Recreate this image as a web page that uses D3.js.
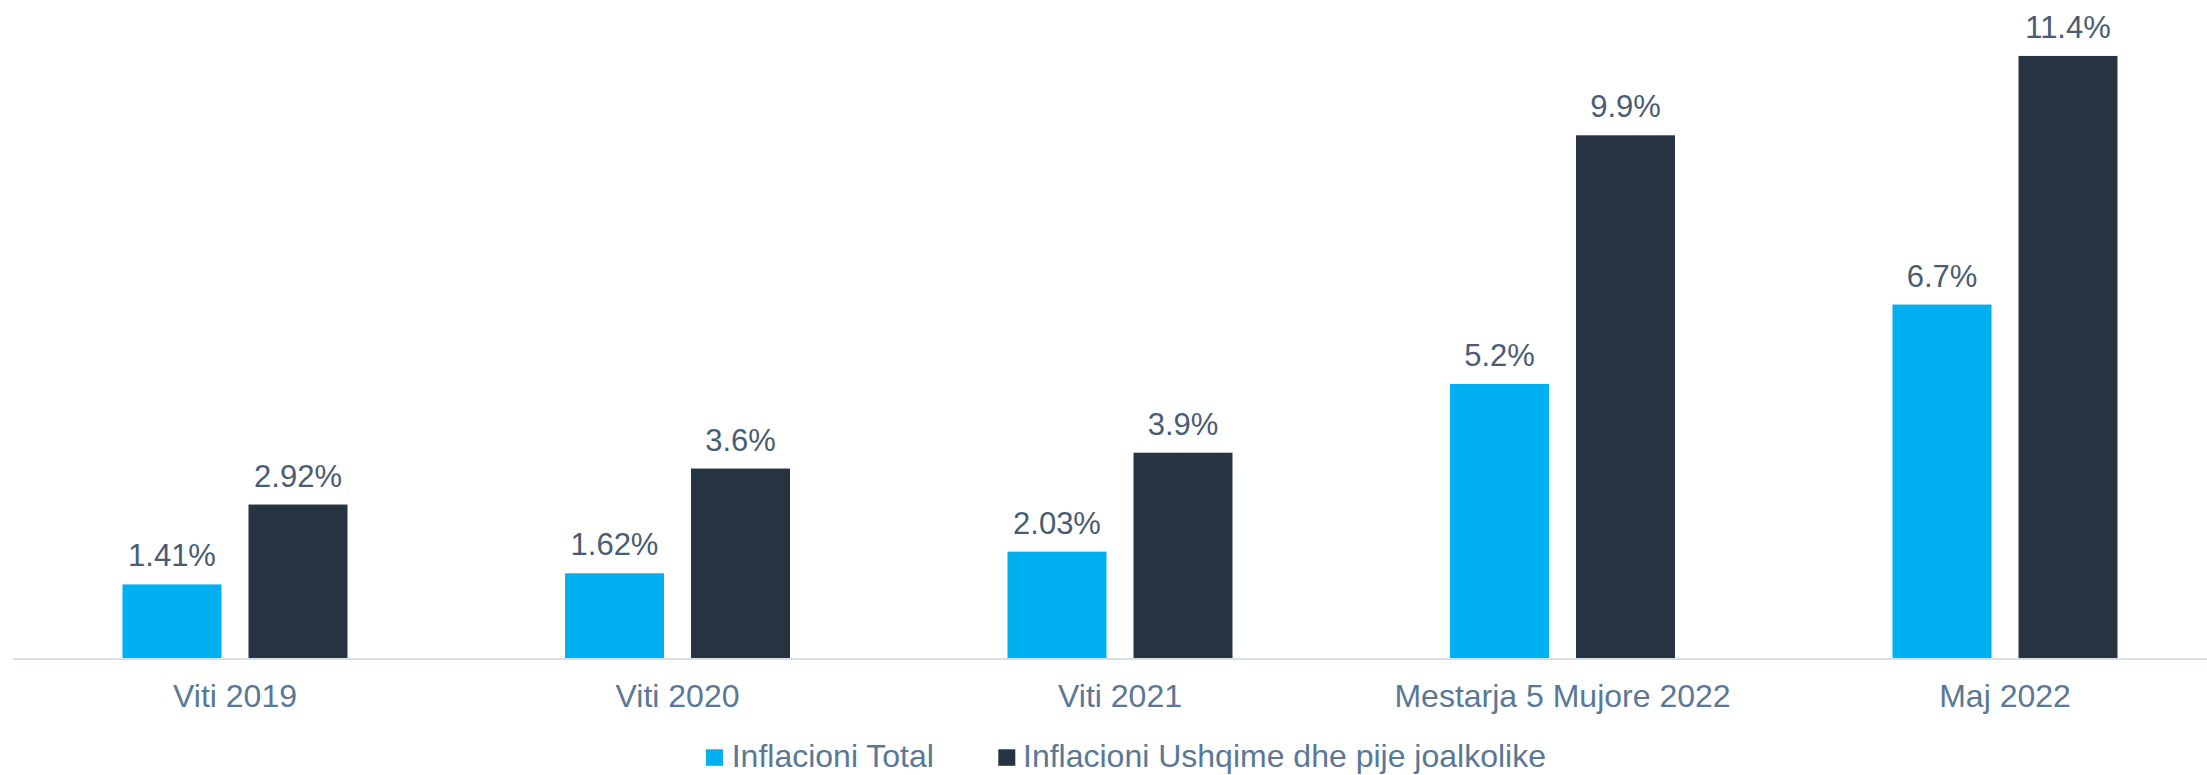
<!DOCTYPE html>
<html>
<head>
<meta charset="utf-8">
<script src="https://cdn.jsdelivr.net/npm/d3@7"></script>
<style>
  html, body { margin: 0; padding: 0; background: #ffffff; }
  svg { display: block; font-family: "Liberation Sans", Arial, sans-serif; }
</style>
</head>
<body>
<svg id="chart" width="2207" height="775"></svg>
<script>
const categories = ["Viti 2019", "Viti 2020", "Viti 2021", "Mestarja 5 Mujore 2022", "Maj 2022"];
const seriesNames = ["Inflacioni Total", "Inflacioni Ushqime dhe pije joalkolike"];
const totalValues = [1.41, 1.62, 2.03, 5.2, 6.7];
const foodValues = [2.92, 3.6, 3.9, 9.9, 11.4];
const totalLabels = ["1.41%", "1.62%", "2.03%", "5.2%", "6.7%"];
const foodLabels = ["2.92%", "3.6%", "3.9%", "9.9%", "11.4%"];
const colors = ["#00B0F0", "#263340"];

const svg = d3.select("#chart");
const baseY = 659;

const x0 = d3.scaleBand(categories, [13.75, 2226.25]).padding(0);
const groupW = 225;
const x1 = d3.scaleBand([0, 1], [x0.bandwidth() / 2 - groupW / 2, x0.bandwidth() / 2 + groupW / 2])
  .paddingInner(0.2143).paddingOuter(0);
const y = d3.scaleLinear([0, 12], [baseY, baseY - 12 * 52.9]);

const rows = categories.map((c, i) => ({
  cat: c,
  vals: [
    { s: 0, v: totalValues[i], label: totalLabels[i] },
    { s: 1, v: foodValues[i], label: foodLabels[i] }
  ]
}));

const groups = svg.append("g").selectAll("g").data(rows).join("g")
  .attr("transform", d => `translate(${x0(d.cat)},0)`);

groups.selectAll("rect").data(d => d.vals).join("rect")
  .attr("x", d => x1(d.s))
  .attr("width", x1.bandwidth())
  .attr("y", d => y(d.v))
  .attr("height", d => y(0) - y(d.v))
  .attr("fill", d => colors[d.s]);

groups.selectAll("text").data(d => d.vals).join("text")
  .attr("x", d => x1(d.s) + x1.bandwidth() / 2)
  .attr("y", d => y(d.v) - 18)
  .attr("text-anchor", "middle")
  .attr("font-size", 31)
  .attr("fill", "#4A5C74")
  .text(d => d.label);

// x axis
const axis = svg.append("g")
  .attr("transform", `translate(0,${baseY})`)
  .call(d3.axisBottom(x0).tickSize(0).tickPadding(0));
axis.select(".domain").attr("stroke", "#D9DEE5").attr("stroke-width", 2)
  .attr("d", `M13,0H2207`);
axis.selectAll(".tick text")
  .attr("y", 48).attr("dy", 0)
  .attr("font-size", 32)
  .attr("font-family", "Liberation Sans, Arial, sans-serif")
  .attr("fill", "#5A7896");

// legend
const legendItems = [
  { name: seriesNames[0], color: colors[0], sx: 706, tx: 731.7 },
  { name: seriesNames[1], color: colors[1], sx: 998.3, tx: 1023 }
];
const lg = svg.append("g");
lg.selectAll("rect").data(legendItems).join("rect")
  .attr("x", d => d.sx).attr("y", 749.3)
  .attr("width", 17).attr("height", 16.5)
  .attr("fill", d => d.color);
lg.selectAll("text").data(legendItems).join("text")
  .attr("x", d => d.tx).attr("y", 766.7)
  .attr("font-size", 32)
  .attr("fill", "#5A7896")
  .text(d => d.name);
</script>
</body>
</html>
